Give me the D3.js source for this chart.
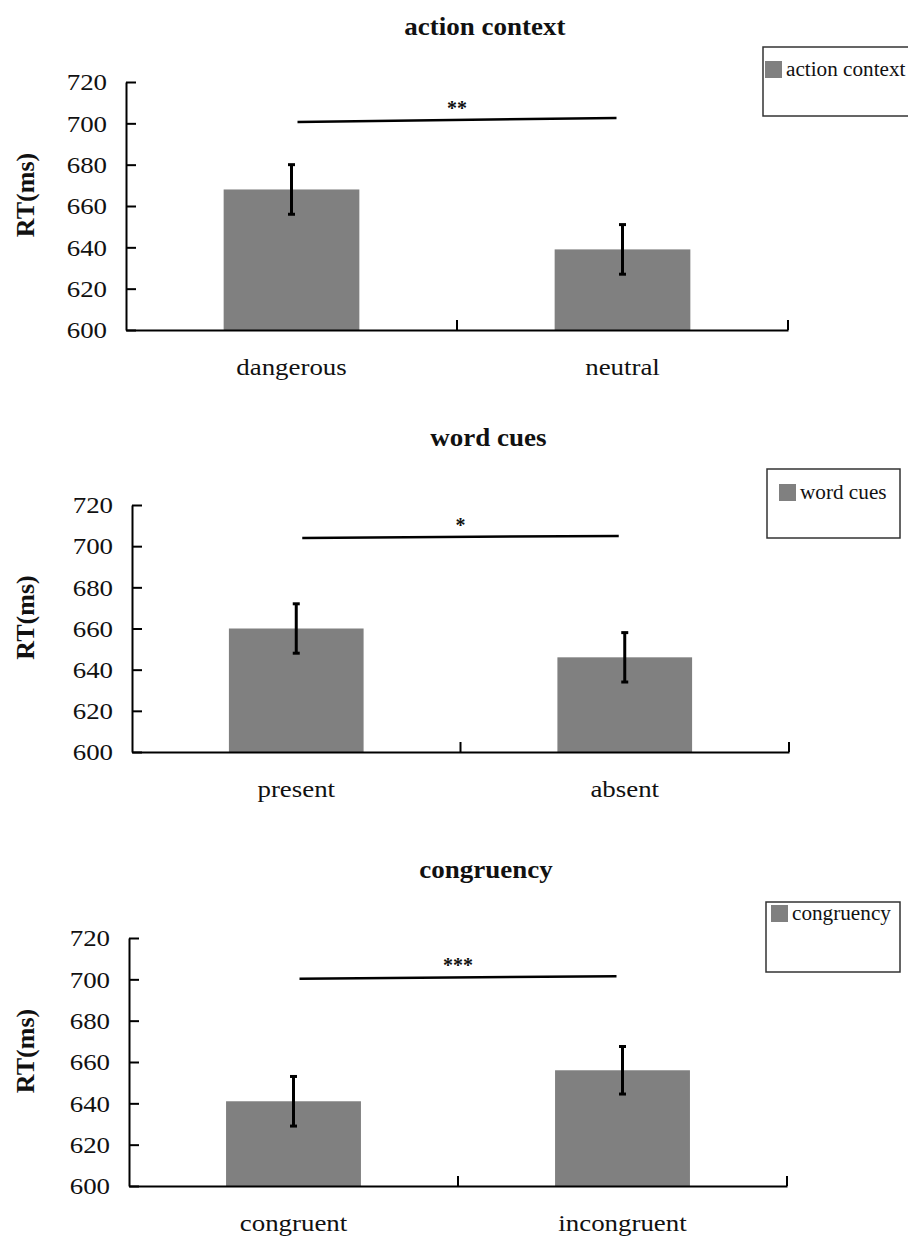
<!DOCTYPE html>
<html>
<head>
<meta charset="utf-8">
<script src="https://cdn.jsdelivr.net/npm/d3@7"></script>
<style>
  body { margin: 0; background: #fff; }
  .graphic text { font-family: "Liberation Serif", "Times New Roman", serif; fill: #111; }
</style>
</head>
<body>
<svg class="graphic" width="908" height="1236"></svg>
<script>
// data
const titles = ["action context", "word cues", "congruency"];
const categories = [["dangerous", "neutral"], ["present", "absent"], ["congruent", "incongruent"]];
const means = [[668, 639], [660, 646], [641, 656]];
const errors = [[12, 12], [12, 12], [12, 11.5]];
const sigLabels = ["**", "*", "***"];
const sigStart = [700.6, 704, 700.3];
const sigEnd = [702.6, 705, 701.5];
const yTicks = [600, 620, 640, 660, 680, 700, 720];

// layout of each panel (pixels)
const LAYOUT = [
    { left: 126, right: 788, top: 82, bottom: 330, titleY: 35, legend: { x: 763, y: 47, w: 150, h: 69, sx: 765, sy: 61 } },
    { left: 132, right: 789, top: 505, bottom: 752, titleY: 446, legend: { x: 767, y: 469, w: 133, h: 69, sx: 779, sy: 484 } },
    { left: 129, right: 787, top: 938, bottom: 1186, titleY: 878, legend: { x: 766, y: 902, w: 134, h: 70, sx: 771, sy: 905 } }
];

const FONT = '"Liberation Serif", "Times New Roman", serif';

const $svg = d3.select('.graphic');

// the scanned figure is a bit wider than tall, widen the glyphs to match
function stretch(sel, k) {
    sel.each(function() {
        const len = this.getComputedTextLength();
        d3.select(this)
            .attr('textLength', len * k)
            .attr('lengthAdjust', 'spacingAndGlyphs');
    });
}

function drawPanel(i) {
    const L = LAYOUT[i];
    const g = $svg.append('g');

    const x = d3.scaleBand()
        .domain(categories[i])
        .range([L.left, L.right]);

    const xBar = d3.scaleBand()
        .domain(categories[i])
        .range([L.left, L.right])
        .paddingInner(0.59)
        .paddingOuter(0.295);

    const y = d3.scaleLinear()
        .domain([600, 720])
        .range([L.bottom, L.top]);

    // title
    g.append('text')
        .attr('x', (L.left + L.right) / 2 + 28)
        .attr('y', L.titleY)
        .attr('text-anchor', 'middle')
        .style('font-family', FONT)
        .style('font-size', '25px')
        .style('font-weight', 'bold')
        .text(titles[i])
        .call(stretch, 1.08);

    // bars
    g.selectAll('rect.bar')
        .data(categories[i])
        .join('rect')
        .attr('class', 'bar')
        .attr('x', d => xBar(d))
        .attr('width', xBar.bandwidth())
        .attr('y', (d, j) => y(means[i][j]))
        .attr('height', (d, j) => y(600) - y(means[i][j]))
        .attr('fill', '#808080');

    // error bars
    categories[i].forEach(function(c, j) {
        const cx = x(c) + x.bandwidth() / 2;
        const lo = y(means[i][j] - errors[i][j]);
        const hi = y(means[i][j] + errors[i][j]);
        g.append('line').attr('x1', cx).attr('x2', cx).attr('y1', lo).attr('y2', hi)
            .attr('stroke', '#000').attr('stroke-width', 3);
        [lo, hi].forEach(v => {
            g.append('line').attr('x1', cx - 3.5).attr('x2', cx + 3.5).attr('y1', v).attr('y2', v)
                .attr('stroke', '#000').attr('stroke-width', 3);
        });
    });

    // y axis
    g.append('g')
        .attr('transform', `translate(${L.left},0)`)
        .call(d3.axisLeft(y)
            .tickValues(yTicks)
            .tickSizeInner(-10)
            .tickSizeOuter(0)
            .tickPadding(19)
            .tickFormat(d3.format('d')))
        .attr('font-family', null)
        .call(g => g.select('.domain').attr('stroke', '#000').attr('stroke-width', 2))
        .call(g => g.selectAll('.tick line').attr('stroke', '#000').attr('stroke-width', 2))
        .call(g => g.selectAll('.tick text')
            .style('font-family', FONT)
            .style('font-size', '24px')
            .call(stretch, 1.12));

    // x axis
    g.append('g')
        .attr('transform', `translate(0,${L.bottom})`)
        .call(d3.axisBottom(x)
            .tickSize(0)
            .tickPadding(28))
        .attr('font-family', null)
        .call(g => g.select('.domain').attr('stroke', '#000').attr('stroke-width', 2))
        .call(g => g.selectAll('.tick text')
            .style('font-family', FONT)
            .style('font-size', '24px')
            .call(stretch, 1.12));

    // category boundary ticks
    categories[i].forEach(function(c) {
        const bx = x(c) + x.step();
        g.append('line').attr('x1', bx).attr('x2', bx).attr('y1', L.bottom).attr('y2', L.bottom - 10)
            .attr('stroke', '#000').attr('stroke-width', 2);
    });

    // y label
    g.append('text')
        .attr('transform', `translate(34,${(L.top + L.bottom) / 2 - 11}) rotate(-90)`)
        .attr('text-anchor', 'middle')
        .style('font-family', FONT)
        .style('font-size', '26px')
        .style('font-weight', 'bold')
        .text('RT(ms)');

    // significance line
    const c0 = x(categories[i][0]) + x.bandwidth() / 2 + 6;
    const c1 = x(categories[i][1]) + x.bandwidth() / 2 - 6;
    g.append('line')
        .attr('x1', c0).attr('x2', c1)
        .attr('y1', y(sigStart[i])).attr('y2', y(sigEnd[i]))
        .attr('stroke', '#000').attr('stroke-width', 2.5);

    g.append('text')
        .attr('x', (c0 + c1) / 2)
        .attr('y', y((sigStart[i] + sigEnd[i]) / 2) - 5)
        .attr('text-anchor', 'middle')
        .style('font-family', FONT)
        .style('font-size', '20px')
        .style('font-weight', 'bold')
        .text(sigLabels[i]);

    // legend
    const lg = L.legend;
    g.append('rect')
        .attr('x', lg.x).attr('y', lg.y).attr('width', lg.w).attr('height', lg.h)
        .attr('fill', '#fff').attr('stroke', '#333').attr('stroke-width', 1.5);
    g.append('rect')
        .attr('x', lg.sx).attr('y', lg.sy).attr('width', 17).attr('height', 17)
        .attr('fill', '#808080');
    g.append('text')
        .attr('x', lg.sx + 21)
        .attr('y', lg.sy + 15)
        .style('font-family', FONT)
        .style('font-size', '20px')
        .text(titles[i])
        .call(stretch, 1.06);
}

titles.forEach((t, i) => drawPanel(i));
</script>
</body>
</html>
